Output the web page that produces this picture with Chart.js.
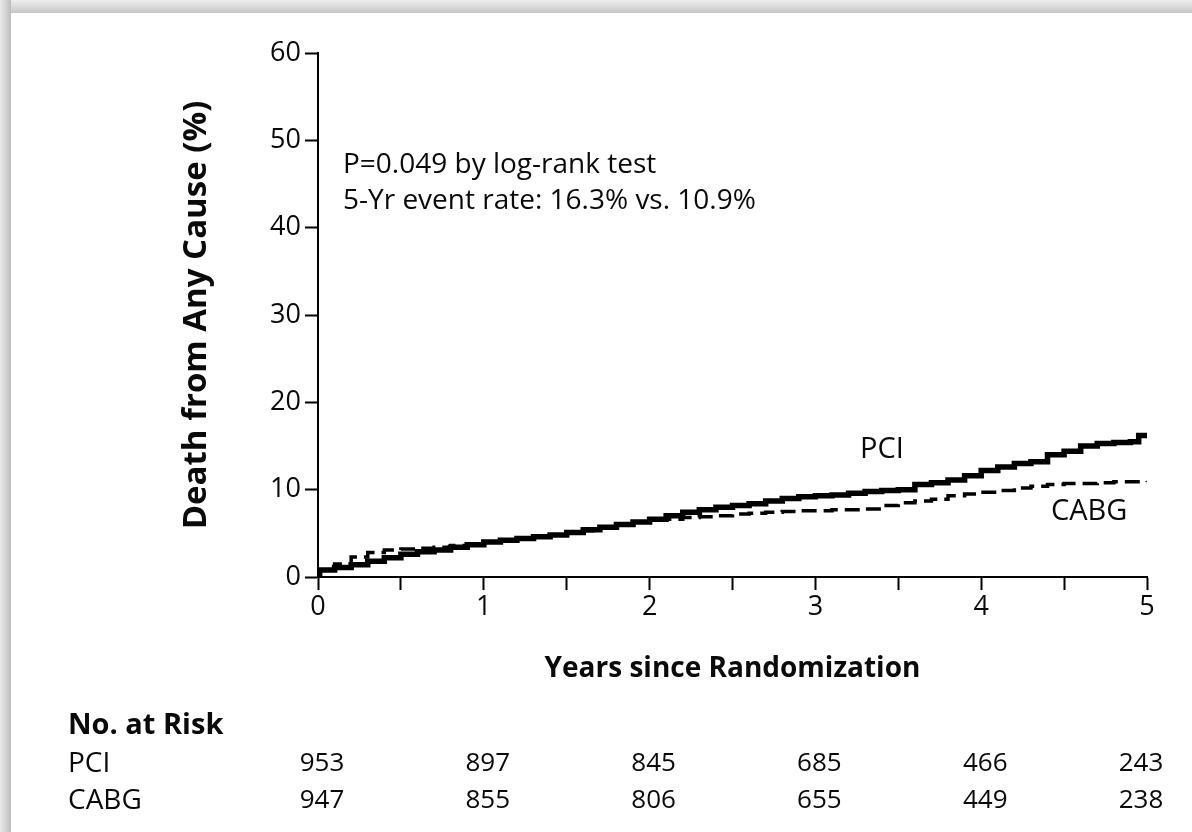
<!DOCTYPE html>
<html>
<head>
<meta charset="utf-8">
<script src="https://cdn.jsdelivr.net/npm/chart.js@4.4.1/dist/chart.umd.min.js"></script>
<style>
  html, body { margin: 0; padding: 0; background: #ffffff; }
  #wrap { position: absolute; left: 0; top: 0; width: 1192px; height: 832px; }
</style>
</head>
<body>
<div id="wrap"><canvas id="c" width="1192" height="832"></canvas></div>
<script>
// ---- Data ----
const pciYears = [0, 0.01, 0.1, 0.2, 0.3, 0.4, 0.5, 0.6, 0.7, 0.8, 0.9, 1.0, 1.1, 1.2, 1.3, 1.4, 1.5, 1.6, 1.7, 1.8, 1.9, 2.0, 2.1, 2.2, 2.3, 2.4, 2.5, 2.6, 2.7, 2.8, 2.9, 3.0, 3.1, 3.2, 3.3, 3.4, 3.5, 3.6, 3.7, 3.8, 3.9, 4.0, 4.1, 4.2, 4.3, 4.4, 4.5, 4.6, 4.7, 4.8, 4.9, 4.95, 5.0];
const pciRate  = [0, 0.8, 1.1, 1.4, 1.8, 2.2, 2.6, 2.9, 3.1, 3.4, 3.7, 4.0, 4.2, 4.4, 4.6, 4.8, 5.1, 5.4, 5.7, 6.0, 6.3, 6.6, 7.0, 7.4, 7.7, 8.0, 8.2, 8.4, 8.7, 9.0, 9.2, 9.3, 9.4, 9.6, 9.8, 9.9, 10.0, 10.6, 10.8, 11.1, 11.6, 12.2, 12.6, 13.0, 13.2, 14.0, 14.4, 15.0, 15.3, 15.4, 15.5, 16.2, 16.3];
const cabgYears = [0, 0.01, 0.1, 0.2, 0.3, 0.4, 0.5, 0.6, 0.7, 0.8, 0.9, 1.0, 1.1, 1.2, 1.3, 1.4, 1.5, 1.6, 1.7, 1.8, 1.9, 2.0, 2.1, 2.2, 2.3, 2.4, 2.5, 2.6, 2.7, 2.8, 2.9, 3.0, 3.1, 3.2, 3.3, 3.4, 3.5, 3.6, 3.7, 3.8, 3.9, 4.0, 4.1, 4.2, 4.3, 4.4, 4.5, 4.6, 4.7, 4.8, 4.9, 5.0];
const cabgRate  = [0, 0.8, 1.5, 2.3, 2.8, 3.1, 3.2, 3.3, 3.4, 3.6, 3.8, 4.0, 4.2, 4.4, 4.6, 4.8, 5.0, 5.3, 5.6, 6.0, 6.3, 6.5, 6.6, 6.8, 6.9, 7.0, 7.2, 7.3, 7.4, 7.5, 7.6, 7.6, 7.7, 7.7, 7.8, 8.2, 8.5, 8.7, 8.9, 9.3, 9.5, 9.7, 9.9, 10.2, 10.4, 10.6, 10.7, 10.7, 10.8, 10.9, 10.9, 11.0];

const xTickValues = [0, 1, 2, 3, 4, 5];
const yTickValues = [0, 10, 20, 30, 40, 50, 60];

const riskYears = [0, 1, 2, 3, 4, 5];
const riskPCI   = [953, 897, 845, 685, 466, 243];
const riskCABG  = [947, 855, 806, 655, 449, 238];

const yTitle = 'Death from Any Cause (%)';
const xTitle = 'Years since Randomization';
const noteLines = ['P=0.049 by log-rank test', '5-Yr event rate: 16.3% vs. 10.9%'];
const seriesNames = ['PCI', 'CABG'];

// ---- Styling ----
const FONT = '"Open Sans", "Noto Sans", sans-serif';
const INK = '#0a0a0a';

const framePlugin = {
  id: 'frame',
  beforeDraw(chart) {
    const ctx = chart.ctx;
    ctx.save();
    ctx.fillStyle = '#ffffff';
    ctx.fillRect(0, 0, chart.width, chart.height);
    let g = ctx.createLinearGradient(0, 0, 0, 13);
    g.addColorStop(0, '#eeeeee');
    g.addColorStop(1, '#c6c6c6');
    ctx.fillStyle = g;
    ctx.fillRect(0, 0, chart.width, 13);
    g = ctx.createLinearGradient(0, 0, 11, 0);
    g.addColorStop(0, '#eaeaea');
    g.addColorStop(1, '#bdbdbd');
    ctx.fillStyle = g;
    ctx.fillRect(0, 0, 11, chart.height);
    ctx.restore();
  }
};

const textPlugin = {
  id: 'texts',
  afterDraw(chart) {
    const ctx = chart.ctx;
    const xs = chart.scales.x;
    ctx.save();
    ctx.fillStyle = INK;
    ctx.textBaseline = 'middle';
    ctx.textAlign = 'left';
    ctx.font = '28px ' + FONT;
    ctx.fillText(noteLines[0], 343, 165);
    ctx.fillText(noteLines[1], 343, 201);
    ctx.font = '29px ' + FONT;
    ctx.fillText(seriesNames[0], 860, 450);
    ctx.fillText(seriesNames[1], 1051, 512);
    // risk table
    ctx.font = 'bold 29px ' + FONT;
    ctx.fillText('No. at Risk', 68, 726);
    ctx.font = '28px ' + FONT;
    ctx.fillText(seriesNames[0], 68, 764);
    ctx.fillText(seriesNames[1], 68, 801);
    ctx.font = '26px ' + FONT;
    ctx.textAlign = 'center';
    riskYears.forEach((yr, i) => {
      const px = xs.getPixelForValue(yr) + (i === riskYears.length - 1 ? -6 : 4);
      ctx.fillText(String(riskPCI[i]), px, 764);
      ctx.fillText(String(riskCABG[i]), px, 801);
    });
    ctx.restore();
  }
};

const toPts = (xs, ys) => xs.map((x, i) => ({ x: x, y: ys[i] }));

new Chart(document.getElementById('c'), {
  type: 'line',
  data: {
    datasets: [
      {
        label: seriesNames[1],
        data: toPts(cabgYears, cabgRate),
        borderColor: '#000000',
        borderWidth: 3.5,
        borderDash: [15, 7],
        stepped: true,
        pointRadius: 0,
        fill: false
      },
      {
        label: seriesNames[0],
        data: toPts(pciYears, pciRate),
        borderColor: '#000000',
        borderWidth: 5.5,
        stepped: true,
        pointRadius: 0,
        fill: false
      }
    ]
  },
  options: {
    responsive: false,
    animation: false,
    events: [],
    layout: { padding: { left: 160, top: 53, right: 45, bottom: 142 } },
    plugins: { legend: { display: false }, tooltip: { enabled: false } },
    scales: {
      x: {
        type: 'linear',
        min: 0, max: 5,
        afterFit(s) { s.height = 113; },
        afterBuildTicks(s) {
          const t = [];
          for (let v = 0; v <= 10; v++) t.push({ value: v / 2 });
          s.ticks = t;
        },
        ticks: {
          autoSkip: false,
          maxRotation: 0,
          padding: 1,
          color: INK,
          font: { family: FONT, size: 27 },
          callback: (v) => (xTickValues.includes(v) ? String(v) : '')
        },
        grid: { drawOnChartArea: false, drawTicks: true, tickLength: 13, tickWidth: 2, tickColor: '#000' },
        border: { display: true, color: '#000', width: 2 },
        title: {
          display: true, text: xTitle, color: INK,
          font: { family: FONT, size: 28, weight: 'bold' },
          padding: { top: 0, bottom: 4 }
        }
      },
      y: {
        type: 'linear',
        min: 0, max: 60,
        afterFit(s) { s.width = 158; },
        afterBuildTicks(s) { s.ticks = yTickValues.map(v => ({ value: v })); },
        ticks: {
          autoSkip: false,
          padding: 4,
          color: INK,
          font: { family: FONT, size: 27 }
        },
        grid: { drawOnChartArea: false, drawTicks: true, tickLength: 13, tickWidth: 2, tickColor: '#000' },
        border: { display: true, color: '#000', width: 2 },
        title: {
          display: true, text: yTitle, color: INK,
          font: { family: FONT, size: 33, weight: 'bold' },
          padding: { top: 17, bottom: 0 }
        }
      }
    }
  },
  plugins: [framePlugin, textPlugin]
});
</script>
</body>
</html>
